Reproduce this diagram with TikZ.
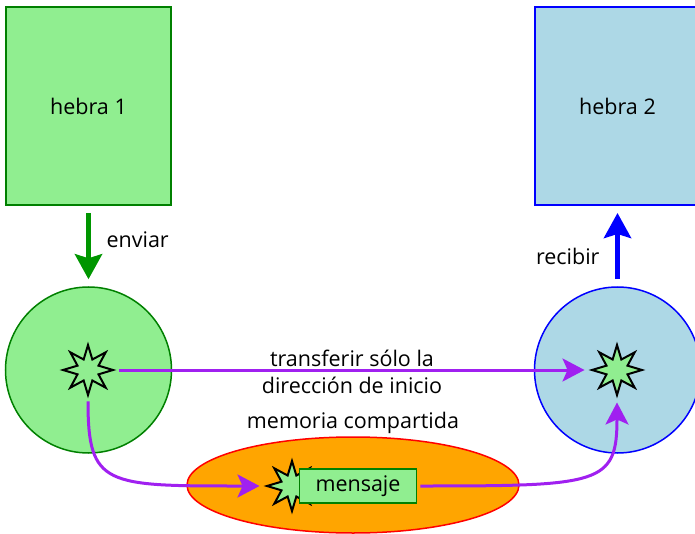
\documentclass[tikz,border=0pt]{standalone}
\usepackage{fontspec}
\setmainfont{Open Sans}
\usetikzlibrary{arrows.meta,positioning,shapes.geometric}
\definecolor{verdeclaro}{HTML}{90EE90}
\definecolor{verdeesc}{HTML}{008000}
\definecolor{verdeflecha}{HTML}{009600}
\definecolor{azulclaro}{HTML}{ADD8E6}
\definecolor{azul}{HTML}{0000FF}
\definecolor{naranja}{HTML}{FFA500}
\definecolor{rojo}{HTML}{FF0000}
\definecolor{morado}{HTML}{A020F0}

\begin{document}
\begin{tikzpicture}[x=1pt, y=-1pt,
  font=\fontsize{21.5}{27}\selectfont,
  hebra/.style={rectangle, line width=2pt, minimum width=165pt,
                minimum height=198pt},
  zona/.style={circle, line width=1.5pt, minimum size=166pt},
  estrella/.style={star, star points=8, star point ratio=2.2,
                   minimum size=50pt, inner sep=0pt, draw=black,
                   line width=2pt, fill=verdeclaro},
  envio/.style={-{Stealth[length=25pt, width=27pt, inset=4pt]},
                line width=5pt},
  seta/.style={-{Stealth[length=22pt, width=23pt, inset=5pt]}, morado,
               line width=3pt, shorten <=3pt, shorten >=4pt}
]
\useasboundingbox (0,0) rectangle (695,534);
\node[hebra, draw=verdeesc, fill=verdeclaro] (hebra1) at (88.5,106) {hebra 1};
\node[hebra, draw=azul, fill=azulclaro]      (hebra2) at (617.5,106) {hebra 2};
\node[zona, draw=verdeesc, fill=verdeclaro]  (zona1) at (88.5,370) {};
\node[zona, draw=azul, fill=azulclaro]       (zona2) at (617.5,370) {};
\node[estrella] (est1) at (88,370) {};
\node[estrella] (est2) at (617,370) {};
\node[ellipse, draw=rojo, line width=1.5pt, fill=naranja,
      minimum width=332pt, minimum height=96pt] (mem) at (353,485) {};
\node[estrella] (est3) at (292,486) {};
\node[rectangle, draw=verdeesc, line width=1.5pt, fill=verdeclaro,
      minimum width=117pt, minimum height=34pt, inner sep=0pt] (msg) at (358,486) {mensaje};
\node[above=2pt of mem, inner sep=0pt] (memtxt) {memoria compartida};
\draw[envio, verdeflecha, shorten <=7pt, shorten >=7pt] (hebra1) -- (zona1);
\draw[envio, azul, shorten <=7pt, shorten >=7pt] (zona2) -- (hebra2);
\node[anchor=west] (enviar) at (103,240) {enviar};
\node[anchor=east] (recibir) at (603,256) {recibir};
\draw[seta] (est1) -- (est2);
\node[align=center] (transf) at (352,372) {transferir sólo la\\dirección de inicio};
\draw[seta] (est1.south) .. controls +(0,88) and +(-158,0) .. (est3.west);
\draw[seta] (msg.east) .. controls +(183,0) and +(0,86) .. (est2.south);
\end{tikzpicture}
\end{document}
